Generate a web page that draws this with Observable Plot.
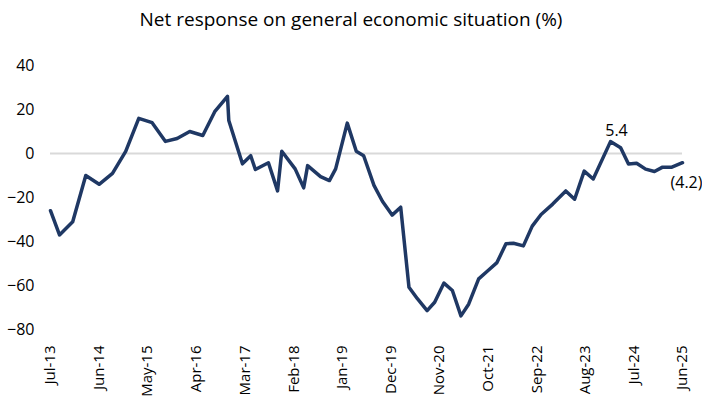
<!DOCTYPE html>
<html><head><meta charset="utf-8">
<script src="https://cdn.jsdelivr.net/npm/d3@7"></script>
<script src="https://cdn.jsdelivr.net/npm/@observablehq/plot@0.6"></script>
<style>
body{margin:0;background:#fff;position:relative;width:702px;height:398px;overflow:hidden;}
#title{position:absolute;left:0;top:6px;width:702px;text-align:center;font-family:"Open Sans",sans-serif;font-size:19px;line-height:26px;color:#000;white-space:nowrap;}
#chart{position:absolute;left:0;top:36px;}
</style></head><body>
<div id="title">Net response on general economic situation (%)</div>
<div id="chart"></div>
<script>
const dates = ["2013-07-01","2013-09-01","2013-12-01","2014-03-01","2014-06-01","2014-09-01","2014-12-01","2015-03-01","2015-06-01","2015-09-01","2015-11-20","2016-02-15","2016-05-15","2016-08-05","2016-11-01","2016-11-10","2017-02-12","2017-04-10","2017-05-12","2017-08-10","2017-10-12","2017-11-10","2018-02-10","2018-04-10","2018-05-07","2018-08-04","2018-10-04","2018-11-16","2019-02-04","2019-04-07","2019-05-28","2019-08-07","2019-10-04","2019-12-10","2020-02-07","2020-04-04","2020-06-01","2020-08-07","2020-09-28","2020-12-01","2021-01-28","2021-03-28","2021-05-20","2021-07-28","2021-10-01","2021-12-01","2022-02-01","2022-03-25","2022-06-01","2022-08-01","2022-10-01","2022-12-20","2023-03-20","2023-05-20","2023-07-25","2023-09-25","2024-01-22","2024-04-01","2024-05-25","2024-07-20","2024-09-20","2024-11-20","2025-01-15","2025-03-20","2025-06-01"];
const values = [-26,-37,-31,-10,-14,-9,1,16,14,5.5,6.8,10,8.2,19,26,15,-4.7,-1,-7.3,-4.2,-17,1,-7,-15.6,-5.5,-10.5,-12.3,-7,13.8,1,-1,-14.5,-21.7,-28,-24.4,-60.8,-66,-71.4,-67.6,-58.9,-62.3,-73.8,-68.5,-57,-53.2,-49.6,-41,-40.8,-42,-33,-27.7,-23,-17,-20.8,-8,-11.6,5.4,2.6,-4.8,-4.4,-7.1,-8.2,-6.2,-6.2,-4.2];
const tickDates = ["2013-07-01","2014-06-01","2015-05-01","2016-04-01","2017-03-01","2018-02-01","2019-01-01","2019-12-01","2020-11-01","2021-10-01","2022-09-01","2023-08-01","2024-07-01","2025-06-01"];
const tickLabels = ["Jul-13","Jun-14","May-15","Apr-16","Mar-17","Feb-18","Jan-19","Dec-19","Nov-20","Oct-21","Sep-22","Aug-23","Jul-24","Jun-25"];
const yTicks = [-80,-60,-40,-20,0,20,40];
const labelDates = ["2024-01-22","2025-06-01"];
const labelValues = [5.4,-4.2];
const labelTexts = ["5.4","(4.2)"];

const data = dates.map((d,i)=>({date:new Date(d), value:values[i]}));
const tickMap = new Map(tickDates.map((d,i)=>[new Date(d).getTime(), tickLabels[i]]));
const labels = labelDates.map((d,i)=>({date:new Date(d), value:labelValues[i], text:labelTexts[i]}));

const chart = Plot.plot({
  width:702, height:362,
  marginLeft:50, marginRight:20, marginTop:29, marginBottom:69,
  style:{fontFamily:"'Open Sans',sans-serif", fontSize:"16px", color:"#000", background:"#fff", overflow:"visible"},
  x:{type:"utc", domain:[new Date(tickDates[0]), new Date(tickDates[tickDates.length-1])]},
  y:{domain:[-80,40]},
  marks:[
    Plot.axisX({ticks: tickDates.map(d=>new Date(d)), tickFormat: d=>tickMap.get(d.getTime()),
      tickRotate:-90, tickSize:0, tickPadding:16, label:null, fontSize:15}),
    Plot.axisY({ticks:yTicks, tickSize:0, tickPadding:16, label:null, fontSize:16}),
    Plot.ruleY([0],{stroke:"#d9d9d9", strokeWidth:2}),
    Plot.line(data,{x:"date", y:"value", stroke:"#1f3864", strokeWidth:3.5, strokeLinejoin:"round"}),
    Plot.text(labels.slice(0,1),{x:"date", y:"value", text:"text", dy:-11, dx:6, fontSize:16, fill:"#000"}),
    Plot.text(labels.slice(1),{x:"date", y:"value", text:"text", dy:20, dx:4, fontSize:16, fill:"#000"})
  ]
});
document.getElementById("chart").appendChild(chart);
</script>
</body></html>
